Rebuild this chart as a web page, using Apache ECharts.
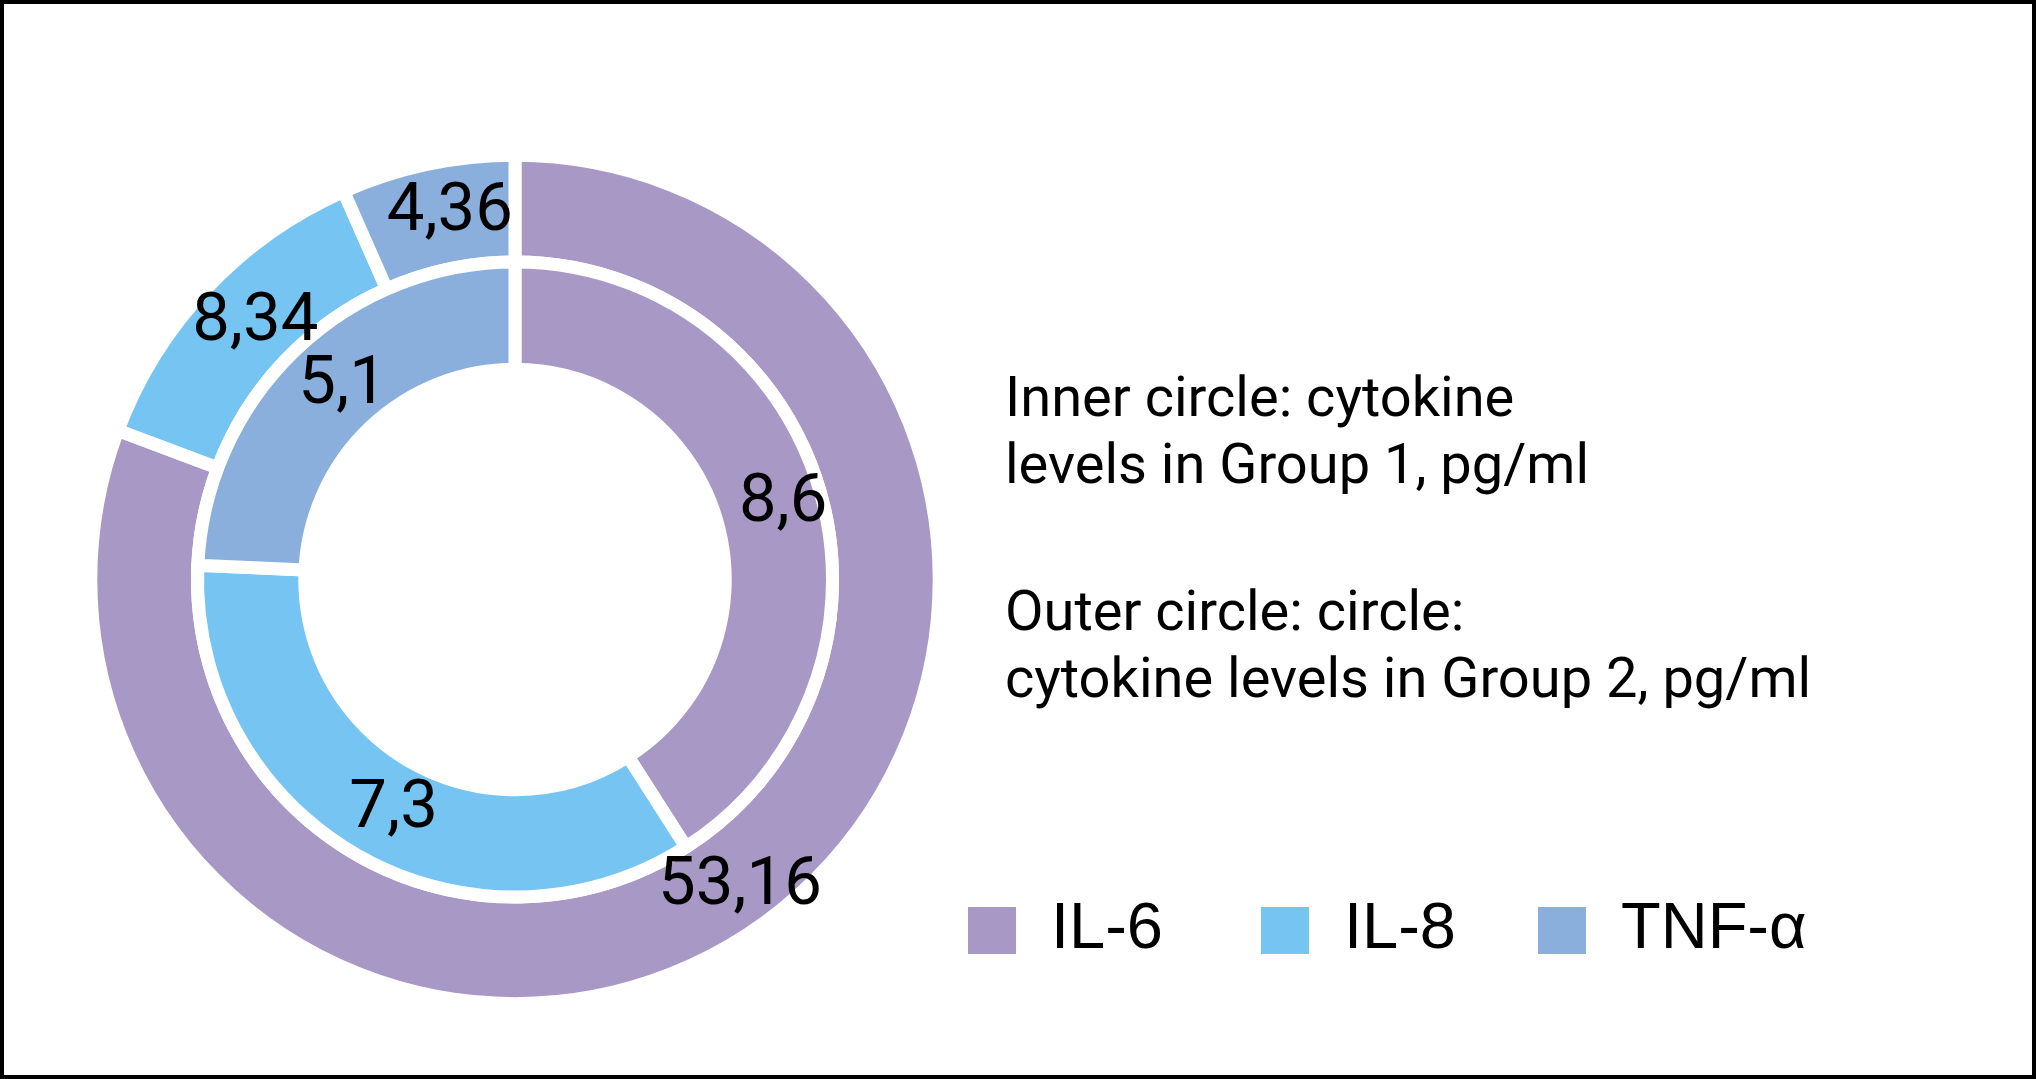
<!DOCTYPE html>
<html>
<head>
<meta charset="utf-8">
<script src="https://cdn.jsdelivr.net/npm/echarts@6/dist/echarts.min.js"></script>
<style>
html,body{margin:0;padding:0;background:#fff;}
#main{width:2036px;height:1079px;}
</style>
</head>
<body>
<div id="main"></div>
<script>
const categories = ['IL-6', 'IL-8', 'TNF-α'];
const group1Values = [8.6, 7.3, 5.1];      // inner circle
const group2Values = [53.16, 8.34, 4.36];  // outer circle
const colors = ['#A898C6', '#75C4F2', '#8BAFDD'];
const innerText = 'Inner circle: cytokine\nlevels in Group 1, pg/ml';
const outerText = 'Outer circle: circle:\ncytokine levels in Group 2, pg/ml';

const chart = echarts.init(document.getElementById('main'), null, {renderer: 'canvas'});

const fmt = p => String(p.value).replace('.', ',');
const mk = vals => categories.map((c, i) => ({name: c, value: vals[i], itemStyle: {color: colors[i]}}));

const labelStyle = {
  show: true, position: 'inside', formatter: fmt, offset: [12, 0],
  fontFamily: 'Roboto', fontSize: 67, color: '#000'
};
const itemStyle = {borderColor: '#fff', borderWidth: 13};

const legendLefts = [968, 1261, 1538];
const legends = categories.map((c, i) => ({
  data: [c],
  left: legendLefts[i],
  top: 898,
  orient: 'horizontal',
  itemWidth: 48,
  itemHeight: 47,
  icon: 'rect',
  selectedMode: false,
  itemStyle: {borderWidth: 0},
  textStyle: {fontFamily: 'Liberation Sans', fontSize: 65, color: '#000', padding: [0, 0, 8, 30], lineHeight: 47},
  padding: 0
}));

chart.setOption({
  animation: false,
  backgroundColor: '#fff',
  title: [
    {text: innerText, left: 1005, top: 369, padding: 0,
     textStyle: {fontFamily: 'Roboto', fontWeight: 'normal', fontSize: 56, lineHeight: 66.6, color: '#000'}},
    {text: outerText, left: 1005, top: 583, padding: 0,
     textStyle: {fontFamily: 'Roboto', fontWeight: 'normal', fontSize: 56, lineHeight: 66.6, color: '#000'}}
  ],
  legend: legends,
  graphic: [{
    type: 'rect', shape: {x: 2, y: 2, width: 2032, height: 1075},
    style: {fill: null, stroke: '#000', lineWidth: 4}, silent: true, z: 100
  }],
  series: [
    {
      name: 'Group 2', type: 'pie', center: [515, 579.5], radius: [317.5, 424.2],
      startAngle: 90, clockwise: true, avoidLabelOverlap: false,
      label: labelStyle, labelLine: {show: false}, labelLayout: {hideOverlap: false},
      itemStyle: itemStyle, emphasis: {disabled: true}, data: mk(group2Values)
    },
    {
      name: 'Group 1', type: 'pie', center: [515, 579.5], radius: [210.2, 317.5],
      startAngle: 90, clockwise: true, avoidLabelOverlap: false,
      label: labelStyle, labelLine: {show: false}, labelLayout: {hideOverlap: false},
      itemStyle: itemStyle, emphasis: {disabled: true}, data: mk(group1Values)
    }
  ]
});
</script>
</body>
</html>
